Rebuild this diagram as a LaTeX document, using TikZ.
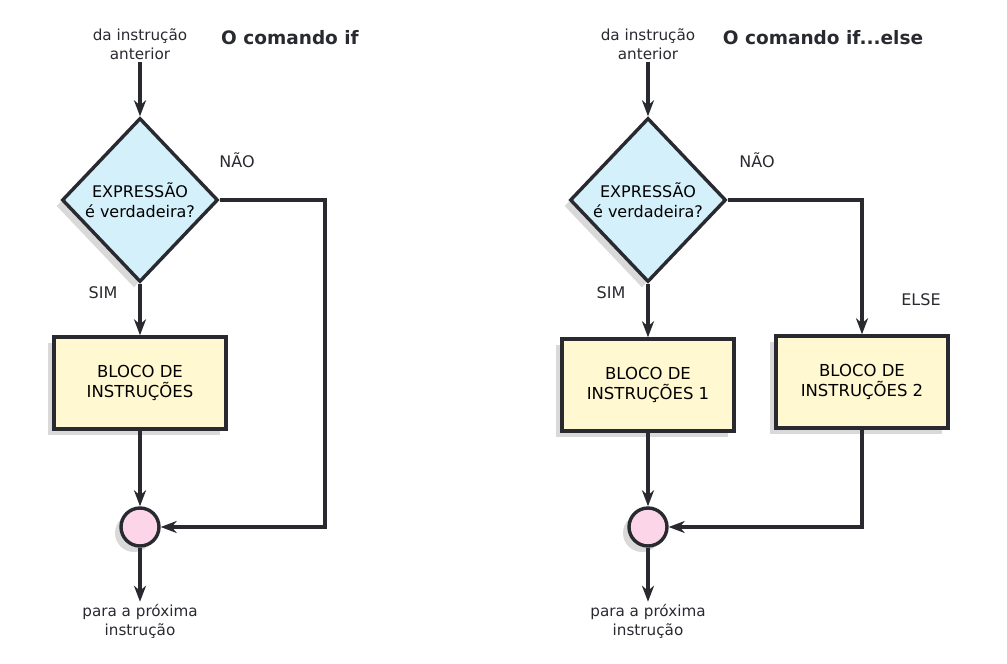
\documentclass[tikz,border=0pt]{standalone}
\usepackage{fontspec}
\setmainfont{DejaVu Sans}
\usetikzlibrary{arrows.meta,shapes.geometric,shadows}

\definecolor{ink}{RGB}{40,42,48}
\definecolor{testblue}{RGB}{212,240,250}
\definecolor{blockyellow}{RGB}{255,248,208}
\definecolor{mergepink}{RGB}{252,214,232}

\begin{document}
\begin{tikzpicture}[
  x=1pt, y=-1pt,
  >={Stealth[length=16pt,width=12pt,inset=5pt]},
  flow/.style={->, line width=3.4pt, draw=ink},
  softshadow/.style={drop shadow={shadow xshift=-6pt, shadow yshift=-6pt, opacity=.15, fill=black}},
  decision/.style={diamond, draw=ink, line width=3.4pt, fill=testblue, softshadow,
    minimum width=156pt, minimum height=164pt, inner sep=0pt, align=center,
    font=\fontsize{16}{20}\selectfont},
  block/.style={rectangle, draw=ink, line width=3.4pt, fill=blockyellow, softshadow,
    minimum width=172pt, minimum height=92pt, align=center,
    font=\fontsize{16.5}{20}\selectfont},
  merge/.style={circle, draw=ink, line width=3.4pt, fill=mergepink, softshadow, minimum size=38pt},
  note/.style={align=center, text=ink, inner sep=2pt, font=\fontsize{15.2}{19}\selectfont},
  heading/.style={text=ink, font=\bfseries\fontsize{18.5}{22}\selectfont}
]
  \useasboundingbox (0,0) rectangle (1007,664);

  % O comando if
  \node[note] (prevA) at (140,44) {da instrução\\anterior};
  \node[heading] (titleA) at (290,38) {O comando if};
  \node[decision] (testA) at (140,200) {EXPRESSÃO\\é verdadeira?};
  \node[block] (blockA) at (140,383) {BLOCO DE\\INSTRUÇÕES};
  \node[merge] (mergeA) at (140,527) {};
  \node[note] (nextA) at (140,621) {para a próxima\\instrução};
  \node[note, font=\fontsize{16}{19}\selectfont] (noA) at (237,160) {NÃO};
  \node[note, font=\fontsize{16}{19}\selectfont] (yesA) at (103,293) {SIM};
  \coordinate (cornerA1) at (325,200);
  \coordinate (cornerA2) at (325,527);

  \draw[flow] (prevA) -- (testA);
  \draw[flow] (testA) -- (blockA);
  \draw[flow] (blockA) -- (mergeA);
  \draw[flow] (testA.east) -- (cornerA1) -- (cornerA2) -- (mergeA);
  \draw[flow] (mergeA) -- (nextA);

  % O comando if...else
  \node[note] (prevB) at (648,44) {da instrução\\anterior};
  \node[heading] (titleB) at (823,38) {O comando if...else};
  \node[decision] (testB) at (648,200) {EXPRESSÃO\\é verdadeira?};
  \node[block] (blockB) at (648,385) {BLOCO DE\\INSTRUÇÕES 1};
  \node[block] (elseblockB) at (862,382) {BLOCO DE\\INSTRUÇÕES 2};
  \node[merge] (mergeB) at (648,527) {};
  \node[note] (nextB) at (648,621) {para a próxima\\instrução};
  \node[note, font=\fontsize{16}{19}\selectfont] (noB) at (757,160) {NÃO};
  \node[note, font=\fontsize{16}{19}\selectfont] (yesB) at (611,293) {SIM};
  \node[note, font=\fontsize{16}{19}\selectfont] (elseB) at (921,300) {ELSE};
  \coordinate (cornerB1) at (862,200);
  \coordinate (cornerB2) at (862,527);

  \draw[flow] (prevB) -- (testB);
  \draw[flow] (testB) -- (blockB);
  \draw[flow] (blockB) -- (mergeB);
  \draw[flow] (testB.east) -- (cornerB1) -- (elseblockB);
  \draw[flow] (elseblockB) -- (cornerB2) -- (mergeB);
  \draw[flow] (mergeB) -- (nextB);
\end{tikzpicture}
\end{document}
